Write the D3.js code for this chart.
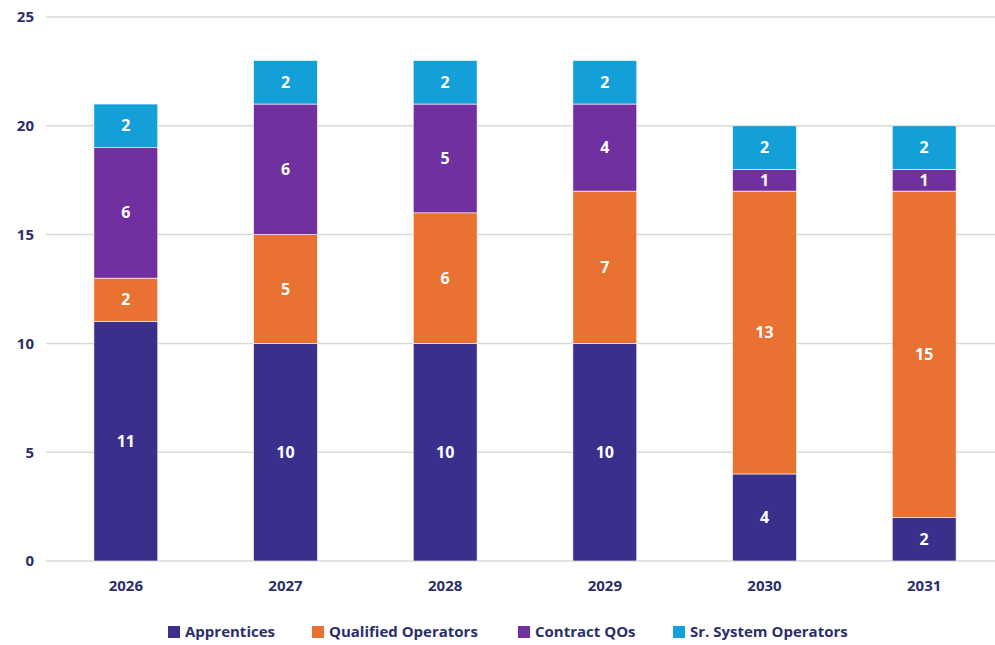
<!DOCTYPE html>
<html lang="en">
<head>
    <meta charset="UTF-8">
    <title>Staffing Plan</title>
    <script src="https://unpkg.com/d3@7.8.0/dist/d3.min.js"></script>
    <style>
        body { margin: 0; background: #fff; }
        text { font-family: "Open Sans", "Noto Sans", sans-serif; }
    </style>
</head>
<body>
    <script>
        // data
        const years = ['2026', '2027', '2028', '2029', '2030', '2031'];
        const seriesNames = ['Apprentices', 'Qualified Operators', 'Contract QOs', 'Sr. System Operators'];
        const apprentices = [11, 10, 10, 10, 4, 2];
        const qualifiedOperators = [2, 5, 6, 7, 13, 15];
        const contractQOs = [6, 6, 5, 4, 1, 1];
        const srSystemOperators = [2, 2, 2, 2, 2, 2];
        const yTicks = [0, 5, 10, 15, 20, 25];

        const colors = ['#3a2f8b', '#e97132', '#7030a0', '#139fd7'];
        const labelFill = '#2b2e6b';

        const width = 995, height = 645;
        const margin = { top: 17, right: -9, bottom: 84, left: 46 };
        const innerwidth = width - margin.left - margin.right;
        const innerheight = height - margin.top - margin.bottom;

        const rows = years.map((y, i) => ({
            year: y,
            'Apprentices': apprentices[i],
            'Qualified Operators': qualifiedOperators[i],
            'Contract QOs': contractQOs[i],
            'Sr. System Operators': srSystemOperators[i]
        }));
        const stacked = d3.stack().keys(seriesNames)(rows);

        const svg = d3.select('body').append('svg')
            .attr('width', width)
            .attr('height', height);

        const g = svg.append('g')
            .attr('transform', `translate(${margin.left}, ${margin.top})`);

        const xScale = d3.scaleBand()
            .domain(years)
            .range([0, innerwidth])
            .paddingInner(0.6)
            .paddingOuter(0.3);

        const yScale = d3.scaleLinear()
            .domain([0, 25])
            .range([innerheight, 0]);

        // gridlines
        g.append('g')
            .selectAll('line')
            .data(yTicks)
            .join('line')
            .attr('x1', 0)
            .attr('x2', width - margin.left)
            .attr('y1', d => yScale(d))
            .attr('y2', d => yScale(d))
            .attr('stroke', '#d9d9d9')
            .attr('stroke-width', 1.5);

        // y axis labels
        const yAxis = d3.axisLeft(yScale).tickValues(yTicks).tickSize(0).tickPadding(12);
        const yAxisG = g.append('g').call(yAxis);
        yAxisG.select('.domain').remove();
        yAxisG.selectAll('.tick text')
            .attr('fill', labelFill)
            .style('font-size', '15px')
            .style('font-weight', 'bold')
            .style('font-family', '"Open Sans", sans-serif');

        // x axis labels
        const xAxis = d3.axisBottom(xScale).tickSize(0).tickPadding(19);
        const xAxisG = g.append('g')
            .attr('transform', `translate(0, ${innerheight})`)
            .call(xAxis);
        xAxisG.select('.domain').remove();
        xAxisG.selectAll('.tick text')
            .attr('fill', labelFill)
            .style('font-size', '15px')
            .style('font-weight', 'bold')
            .style('font-family', '"Open Sans", sans-serif');

        // bars
        const layers = g.append('g')
            .selectAll('g')
            .data(stacked)
            .join('g')
            .attr('fill', (d, i) => colors[i]);

        layers.selectAll('rect')
            .data(d => d)
            .join('rect')
            .attr('x', d => xScale(d.data.year))
            .attr('width', xScale.bandwidth())
            .attr('y', d => yScale(d[1]))
            .attr('height', d => yScale(d[0]) - yScale(d[1]))
            .attr('stroke', '#fff')
            .attr('stroke-width', 0.6);

        // value labels
        layers.selectAll('text')
            .data(d => d)
            .join('text')
            .attr('x', d => xScale(d.data.year) + xScale.bandwidth() / 2)
            .attr('y', d => (yScale(d[0]) + yScale(d[1])) / 2)
            .attr('dy', '0.35em')
            .attr('text-anchor', 'middle')
            .attr('fill', '#fff')
            .style('font-size', '16px')
            .style('font-weight', 'bold')
            .text(d => d[1] - d[0]);

        // legend
        const legendX = [168, 312, 518, 673];
        const legend = svg.append('g')
            .selectAll('g')
            .data(seriesNames)
            .join('g')
            .attr('transform', (d, i) => `translate(${legendX[i]}, 632)`);
        legend.append('rect')
            .attr('x', 0)
            .attr('y', -6)
            .attr('width', 12)
            .attr('height', 12)
            .attr('fill', (d, i) => colors[i]);
        legend.append('text')
            .attr('x', 17)
            .attr('dy', '0.35em')
            .attr('fill', labelFill)
            .style('font-size', '15px')
            .style('font-weight', 'bold')
            .text(d => d);
    </script>
</body>
</html>
